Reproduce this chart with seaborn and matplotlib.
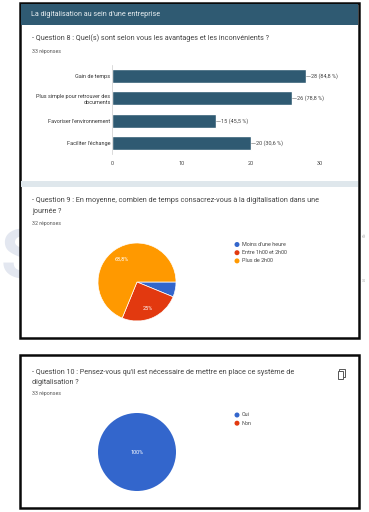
import matplotlib
matplotlib.use("Agg")
import matplotlib.pyplot as plt
from matplotlib.patches import Rectangle, Circle
import pandas as pd
import seaborn as sns

W, H = 369, 512

bar_labels = ["Gain de temps", "Plus simple pour retrouver des\ndocuments",
              "Favoriser l'environnement", "Faciliter l'échange"]
bar_values = [28, 26, 15, 20]
bar_texts = ["28 (84,8 %)", "26 (78,8 %)", "15 (45,5 %)", "20 (30,6 %)"]
bar_ticks = [0, 10, 20, 30]

pie1_labels = ["Moins d'une heure", "Entre 1h00 et 2h00", "Plus de 2h00"]
pie1_values = [6.2, 25, 68.8]
pie1_colors = ["#3366cc", "#e2390f", "#ff9900"]

pie2_labels = ["Oui", "Non"]
pie2_values = [100, 0]
pie2_colors = ["#3366cc", "#e2390f"]

sns.set_theme(style="white")
plt.rcParams["font.family"] = ["Roboto", "DejaVu Sans"]

fig = plt.figure(figsize=(W / 100, H / 100), dpi=100, facecolor="white")


def px_axes(x0, y0, x1, y1, **kw):
    return fig.add_axes([x0 / W, 1 - y1 / H, (x1 - x0) / W, (y1 - y0) / H], **kw)


bg = px_axes(0, 0, W, H)
bg.set_xlim(0, W)
bg.set_ylim(H, 0)
bg.axis("off")

# faint watermark behind the page
bg.text(1, 260, "S", fontsize=50, color="#e3e7f0", va="center", ha="left",
        fontweight="bold", zorder=1)
bg.text(362, 237, "é", fontsize=4.5, color="#b8b8b8", va="center", zorder=1)
bg.text(362, 280, "s", fontsize=4.5, color="#b8b8b8", va="center", zorder=1)

# frames
bg.add_patch(Rectangle((19.5, 3), 339.5, 335, fc="white", ec="#0a0a0a", lw=1.8, zorder=2))
bg.add_patch(Rectangle((19.5, 355), 339.5, 152.5, fc="white", ec="#0a0a0a", lw=1.8, zorder=2))
bg.add_patch(Rectangle((21, 4), 337, 21, fc="#2f5a72", ec="none", zorder=3))
bg.add_patch(Rectangle((21, 181), 337, 6, fc="#dfe7ec", ec="none", zorder=3))

t = dict(va="center", ha="left", zorder=4)
q = 5.2
bg.text(31, 14.5, "La digitalisation au sein d'une entreprise", fontsize=5.2, color="#e8eef1", **t)
bg.text(32, 38.5, "- Question 8 : Quel(s) sont selon vous les avantages et les inconvénients ?",
        fontsize=q, color="#444444", **t)
bg.text(32, 51, "33 réponses", fontsize=3.8, color="#555555", **t)
bg.text(32, 201, "- Question 9 : En moyenne, combien de temps consacrez-vous à la digitalisation dans une",
        fontsize=q, color="#444444", **t)
bg.text(32, 211.5, "journée ?", fontsize=q, color="#444444", **t)
bg.text(32, 223.5, "32 réponses", fontsize=3.8, color="#555555", **t)
bg.text(32, 372, "- Question 10 : Pensez-vous qu'il est nécessaire de mettre en place ce système de",
        fontsize=q, color="#444444", **t)
bg.text(32, 382, "digitalisation ?", fontsize=q, color="#444444", **t)
bg.text(32, 394, "33 réponses", fontsize=3.8, color="#555555", **t)

# copy icon
bg.add_patch(Rectangle((339, 369), 5.5, 7.5, fc="white", ec="#555555", lw=0.7, zorder=4))
bg.add_patch(Rectangle((337.5, 371), 5.5, 7.5, fc="white", ec="#555555", lw=0.7, zorder=5))

# legends
for i, (lab, col) in enumerate(zip(pie1_labels, pie1_colors)):
    y = 244.5 + i * 8.2
    bg.add_patch(Circle((237, y), 2.5, fc=col, ec="none", zorder=4))
    bg.text(242, y, lab, fontsize=3.9, color="#444444", **t)
for i, (lab, col) in enumerate(zip(pie2_labels, pie2_colors)):
    y = 415 + i * 8.2
    bg.add_patch(Circle((237, y), 2.5, fc=col, ec="none", zorder=4))
    bg.text(242, y, lab, fontsize=3.9, color="#444444", **t)

# bar chart
ax = px_axes(112, 65, 320, 154, facecolor="none")
df = pd.DataFrame({"label": bar_labels, "value": bar_values})
sns.barplot(data=df, y="label", x="value", color="#2f5a72", saturation=1, width=0.62, ax=ax)
ax.set_xlim(0, 30)
ax.set_xticks(bar_ticks)
ax.set_xlabel("")
ax.set_ylabel("")
ax.tick_params(axis="x", length=0, labelsize=4, labelcolor="#444444", pad=5)
ax.tick_params(axis="y", length=0, labelsize=4, labelcolor="#333333", pad=1)
for s in ["top", "right", "bottom"]:
    ax.spines[s].set_visible(False)
ax.spines["left"].set_color("#cccccc")
ax.spines["left"].set_linewidth(0.5)
for i, (v, s) in enumerate(zip(bar_values, bar_texts)):
    ax.plot([v, v + 0.6], [i, i], color="#888888", lw=0.5, clip_on=False)
    ax.text(v + 0.7, i, s, fontsize=4, color="#444444", va="center", ha="left")


def pie(cx, cy, r, values, colors, labels):
    a = px_axes(cx - r, cy - r, cx + r, cy + r)
    a.pie(values, colors=colors, startangle=0, counterclock=False, radius=1,
          wedgeprops=dict(edgecolor="white", linewidth=0.5 if values[1] else 0))
    a.set_xlim(-1, 1)
    a.set_ylim(-1, 1)
    for x, y, s in labels:
        a.text(x, y, s, fontsize=4, color="white", ha="center", va="center")


pie(137, 282, 39, pie1_values, pie1_colors,
    [(-0.39, 0.58, "68,8%"), (0.29, -0.69, "25%")])
pie(137, 452, 39, pie2_values, pie2_colors, [(0, 0, "100%")])

fig.savefig("out.png", dpi=100)
